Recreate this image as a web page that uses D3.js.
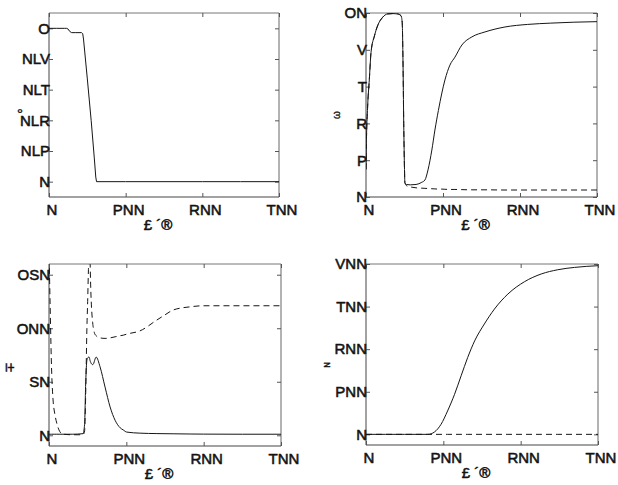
<!DOCTYPE html>
<html>
<head>
<meta charset="utf-8">
<script src="https://cdn.jsdelivr.net/npm/d3@7"></script>
<style>
  html, body { margin: 0; padding: 0; background: #fff; }
  svg { display: block; }
  text { font-family: "Liberation Sans", Arial, sans-serif; fill: #111; }
</style>
</head>
<body>
<svg id="chart" width="618" height="485"></svg>
<script>
// ---------- data ----------
const xTicks = [0, 200, 400, 600];
const xTickLabels = ["N", "PNN", "RNN", "TNN"];
const xLabel = "£ ´®";

// panel 1 (top-left)
const p1YTicks = [0, 0.2, 0.4, 0.6, 0.8, 1];
const p1YLabels = ["N", "NLP", "NLR", "NLT", "NLV", "O"];
const p1YTitle = "°";
const p1X = [0, 20, 40, 46, 50, 54, 59, 70, 85, 88, 90, 100, 110, 118, 122, 124, 200, 300, 400, 500, 600];
const p1Solid = [1, 1, 1, 1, 0.995, 0.98, 0.972, 0.972, 0.972, 0.965, 0.93, 0.67, 0.40, 0.16, 0.03, 0, 0, 0, 0, 0, 0];

// panel 2 (top-right)
const p2YTicks = [0, 2, 4, 6, 8, 10];
const p2YLabels = ["N", "P", "R", "T", "V", "ON"];
const p2YTitle = "ω";
const p2X = [0, 1, 4, 8.7, 13, 22, 30, 43, 56, 70, 82, 91, 94, 96, 98, 100, 101, 105, 115, 130, 145, 153, 161, 171, 179, 188, 197, 205, 218, 231, 249, 275, 309, 361, 420, 480, 540, 600];
const p2Solid = [1.5, 2.9, 4.8, 6.4, 7.85, 8.76, 9.3, 9.76, 9.95, 9.97, 9.95, 9.85, 9.5, 7.5, 4.0, 1.5, 0.78, 0.68, 0.66, 0.68, 0.8, 0.92, 1.47, 2.55, 3.64, 4.7, 5.65, 6.36, 7.17, 7.6, 8.26, 8.7, 8.97, 9.24, 9.38, 9.45, 9.5, 9.53];
const p2Dashed = [1.5, 2.9, 4.8, 6.4, 7.85, 8.76, 9.3, 9.76, 9.95, 9.97, 9.95, 9.85, 9.5, 7.5, 4.0, 1.5, 0.78, 0.62, 0.55, 0.5, 0.48, 0.47, 0.46, 0.45, 0.44, 0.43, 0.43, 0.42, 0.41, 0.41, 0.4, 0.39, 0.39, 0.38, 0.38, 0.38, 0.38, 0.38];

// panel 3 (bottom-left)
const p3YTicks = [0, 50, 100, 150];
const p3YLabels = ["N", "SN", "ONN", "OSN"];
const p3YTitle = "∓";
const p3X = [0, 3, 7, 10.5, 15, 20, 28, 36, 60, 88, 92, 95, 98, 100, 102, 104, 106, 108, 113, 116, 118, 122, 132, 145, 158, 171, 184, 192, 201, 235, 279, 300, 321, 365, 400, 500, 600];
const p3Solid = [1, 1, 1, 1, 1, 1, 1, 1, 1, 1.5, 10, 50, 70, 72, 73, 73, 70, 68, 66, 67.5, 70, 73, 64, 45, 26.5, 14, 7, 5, 3, 2, 1.6, 1.5, 1.4, 1.2, 1.1, 1, 1];
const p3Dashed = [175, 120, 58, 33, 20, 11.5, 3.4, 1, 0.5, 0.5, 4, 40, 100, 125, 155, 175, 165, 137, 105, 98, 95, 93, 91, 90.5, 91, 92, 93, 93.5, 94.5, 97.5, 107.7, 112.5, 117, 120, 121, 121, 121];

// panel 4 (bottom-right)
const p4YTicks = [0, 200, 400, 600, 800];
const p4YLabels = ["N", "PNN", "RNN", "TNN", "VNN"];
const p4YTitle = "ɴ";
const p4X = [0, 50, 100, 150, 160, 177, 194, 211, 229, 246, 263, 281, 306, 332, 367, 410, 453, 496, 539, 600];
const p4Solid = [0, 0, 0, 0, 0, 11, 47, 110, 188, 275, 361, 439, 518, 588, 659, 717, 753, 773, 784, 792];
const p4Dashed = [0, 0, 0, 0, 0, 0, 0, 0, 0, 0, 0, 0, 0, 0, 0, 0, 0, 0, 0, 0];

// ---------- drawing ----------
const svg = d3.select("#chart");
const INK = "#161616";

const panels = [
  { box: [49, 279, 13, 197], yDomain: [-0.1, 1.1], yTicks: p1YTicks, yLabels: p1YLabels, yTitle: p1YTitle,
    title: { x: 20, y: 115, rot: 0, size: 15 },
    x: p1X, solid: p1Solid, dashed: null, curve: d3.curveLinear },
  { box: [366, 597, 13, 197], yDomain: [0, 10], yTicks: p2YTicks, yLabels: p2YLabels, yTitle: p2YTitle,
    title: { x: 337, y: 115, rot: -90, size: 10 },
    x: p2X, solid: p2Solid, dashed: p2Dashed, curve: d3.curveMonotoneX },
  { box: [49, 281, 264, 446], yDomain: [-10, 160], yTicks: p3YTicks, yLabels: p3YLabels, yTitle: p3YTitle,
    title: { x: 11, y: 367, rot: -90, size: 13 },
    x: p3X, solid: p3Solid, dashed: p3Dashed, curve: d3.curveMonotoneX },
  { box: [366, 598, 264, 445], yDomain: [-50, 800], yTicks: p4YTicks, yLabels: p4YLabels, yTitle: p4YTitle,
    title: { x: 327, y: 365, rot: -90, size: 10 },
    x: p4X, solid: p4Solid, dashed: p4Dashed, curve: d3.curveMonotoneX }
];

panels.forEach((p, i) => {
  const [L, R, T, B] = p.box;
  const xs = d3.scaleLinear().domain([0, 600]).range([L, R]);
  const ys = d3.scaleLinear().domain(p.yDomain).range([B, T]);
  const g = svg.append("g");

  const clipId = "clip" + i;
  svg.append("clipPath").attr("id", clipId)
    .append("rect").attr("x", L).attr("y", T).attr("width", R - L).attr("height", B - T);

  // frame (left/bottom darker, top/right lighter as in the scan)
  g.append("line").attr("x1", L).attr("x2", R).attr("y1", T).attr("y2", T).attr("stroke", "#777");
  g.append("line").attr("x1", R).attr("x2", R).attr("y1", T).attr("y2", B).attr("stroke", "#666");
  g.append("line").attr("x1", L).attr("x2", R).attr("y1", B).attr("y2", B).attr("stroke", "#444");
  g.append("line").attr("x1", L).attr("x2", L).attr("y1", T).attr("y2", B).attr("stroke", "#444");

  // axes (inward ticks, mirrored)
  const bottom = g.append("g").attr("transform", `translate(0,${B})`)
    .call(d3.axisBottom(xs).tickValues(xTicks).tickFormat((d, k) => xTickLabels[k])
      .tickSizeInner(-4).tickSizeOuter(0).tickPadding(7));
  bottom.selectAll("text").attr("dx", "2.5");
  const top = g.append("g").attr("transform", `translate(0,${T})`)
    .call(d3.axisTop(xs).tickValues(xTicks).tickFormat("").tickSizeInner(-4).tickSizeOuter(0));
  const left = g.append("g").attr("transform", `translate(${L},0)`)
    .call(d3.axisLeft(ys).tickValues(p.yTicks).tickFormat((d, k) => p.yLabels[k])
      .tickSizeInner(-4).tickSizeOuter(0).tickPadding(-1));
  const right = g.append("g").attr("transform", `translate(${R},0)`)
    .call(d3.axisRight(ys).tickValues(p.yTicks).tickFormat("").tickSizeInner(-4).tickSizeOuter(0));

  [bottom, top, left, right].forEach(a => {
    a.select(".domain").remove();
    a.selectAll("line").attr("stroke", "#555");
    a.selectAll("text")
      .style("font-family", '"Liberation Sans", Arial, sans-serif')
      .style("font-size", "15px")
      .attr("fill", INK).attr("stroke", INK).attr("stroke-width", 0.55);
  });

  // x label
  g.append("text").attr("x", (L + R) / 2 - 6).attr("y", B + 33)
    .attr("text-anchor", "middle").style("font-size", "15px")
    .attr("stroke", INK).attr("stroke-width", 0.55).text(xLabel);

  // y title
  g.append("text").attr("transform", `translate(${p.title.x},${p.title.y}) rotate(${p.title.rot})`)
    .attr("text-anchor", "middle").attr("dominant-baseline", "middle")
    .style("font-size", p.title.size + "px")
    .attr("stroke", INK).attr("stroke-width", 0.4).text(p.yTitle);

  const plot = g.append("g").attr("clip-path", `url(#${clipId})`);
  const mk = vals => d3.line().curve(p.curve).x((d, k) => xs(p.x[k])).y(d => ys(d))(vals);

  if (p.dashed) {
    plot.append("path").attr("d", mk(p.dashed)).attr("fill", "none")
      .attr("stroke", INK).attr("stroke-width", 1).attr("stroke-dasharray", "6,4");
  }
  plot.append("path").attr("d", mk(p.solid)).attr("fill", "none")
    .attr("stroke", INK).attr("stroke-width", 1);
});
</script>
</body>
</html>
